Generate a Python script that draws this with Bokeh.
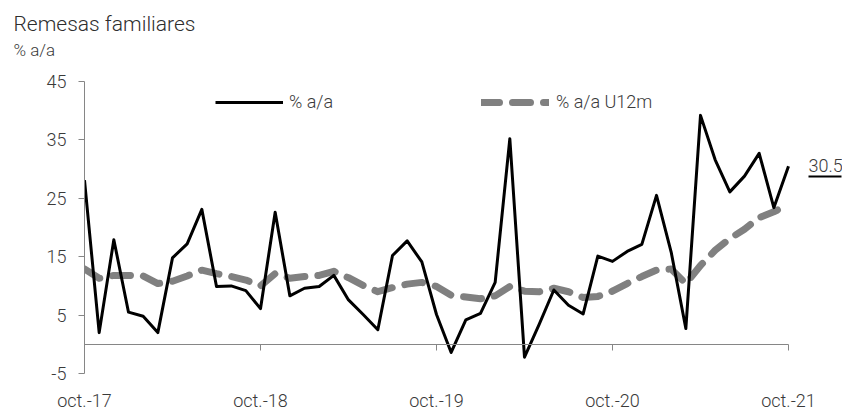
from bokeh.plotting import figure
from bokeh.models import (Range1d, LinearAxis, FixedTicker, Legend, LegendItem,
                          Title, ColumnDataSource)
from bokeh.core.properties import value
from bokeh.embed import file_html
from bokeh.resources import INLINE

# ---------------- data ----------------
tick_pos = [0, 12, 24, 36, 48]
tick_labels = ["oct.-17", "oct.-18", "oct.-19", "oct.-20", "oct.-21"]
y_ticks = [-5, 5, 15, 25, 35, 45]
y_tick_labels = ["-5", "5", "15", "25", "35", "45"]

yoy = [28.1, 2.0, 17.9, 5.5, 4.8, 2.0, 14.8, 17.2, 23.1, 9.9, 10.0, 9.2,
       6.1, 22.6, 8.3, 9.6, 9.9, 11.8, 7.6, 5.1, 2.5, 15.2, 17.7, 14.1,
       5.1, -1.4, 4.2, 5.3, 10.6, 35.2, -2.2, 3.4, 9.3, 6.7, 5.2, 15.1,
       14.2, 15.9, 17.1, 25.5, 15.8, 2.7, 39.2, 31.6, 26.1, 28.8, 32.7, 23.4,
       30.5]
yoy_12m = [12.9, 11.3, 11.8, 11.8, 11.7, 10.4, 10.8, 11.7, 12.7, 12.1, 11.6, 11.0,
           10.0, 12.1, 11.3, 11.6, 11.8, 12.5, 11.4, 10.1, 9.0, 9.7, 10.3, 10.6,
           9.9, 8.4, 8.1, 7.8, 8.3, 9.9, 9.1, 9.0, 9.6, 9.0, 8.0, 8.2,
           9.1, 10.4, 11.6, 12.7, 12.9, 10.4, 13.5, 16.1, 18.1, 19.7, 21.7, 22.7,
           23.9]
months = list(range(len(yoy)))

FONT = "Roboto Light"
TXT = "#3a3a3a"
AX = "#868686"

# frame geometry
W, H = 842, 413
LEFT, TOP, BOTTOM = 84, 81, 37
frame_w = W - LEFT
frame_h = H - TOP - BOTTOM
px_per_month = 704 / 48.0
xmax = frame_w / px_per_month
px_per_unit = frame_h / 50.0

p = figure(width=W, height=H, output_backend="svg", toolbar_location=None,
           x_range=Range1d(0, xmax), y_range=Range1d(-5, 45),
           x_axis_type=None, y_axis_type=None,
           min_border_left=LEFT, min_border_right=0, min_border_top=TOP,
           min_border_bottom=BOTTOM)
p.outline_line_color = None
p.xgrid.visible = False
p.ygrid.visible = False
p.background_fill_color = "white"
p.border_fill_color = "white"

# y axis
yax = LinearAxis(ticker=FixedTicker(ticks=y_ticks),
                 major_label_overrides={t: l for t, l in zip(y_ticks, y_tick_labels)})
yax.axis_line_color = AX
yax.major_tick_line_color = AX
yax.major_tick_in = 0
yax.major_tick_out = 6
yax.minor_tick_line_color = None
yax.major_label_standoff = 12
yax.major_label_text_font = FONT
yax.major_label_text_font_size = "18px"
yax.major_label_text_color = TXT
p.add_layout(yax, "left")

# x axis line at zero with ticks (no labels)
xax0 = LinearAxis(ticker=FixedTicker(ticks=tick_pos), fixed_location=0, bounds=(0, 48),
                  major_label_overrides={t: "" for t in tick_pos})
xax0.axis_line_color = AX
xax0.major_tick_line_color = AX
xax0.major_tick_in = 0
xax0.major_tick_out = 6
xax0.minor_tick_line_color = None
xax0.major_label_standoff = 0
xax0.major_label_text_font_size = "1px"
p.add_layout(xax0, "below")

# x labels axis at bottom
xax = LinearAxis(ticker=FixedTicker(ticks=tick_pos),
                 major_label_overrides={t: l for t, l in zip(tick_pos, tick_labels)})
xax.axis_line_color = None
xax.major_tick_line_color = None
xax.minor_tick_line_color = None
xax.major_tick_in = 0
xax.major_tick_out = 0
xax.major_label_standoff = 16
xax.major_label_text_font = FONT
xax.major_label_text_font_size = "18px"
xax.major_label_text_color = TXT
p.add_layout(xax, "below")

src = ColumnDataSource(dict(m=months, yoy=yoy, yoy12=yoy_12m))
r12 = p.line("m", "yoy12", source=src, line_color="#808080", line_width=7,
             line_dash="18 13", line_cap="round", line_join="round")
r1 = p.line("m", "yoy", source=src, line_color="#000000", line_width=3,
            line_join="round")

# last value label with underline
last_i = months[-1]
last_v = yoy[-1]
p.text(x=[last_i], y=[last_v], text=[f"{last_v:.1f}"], x_offset=20, y_offset=-1,
       text_baseline="middle", text_align="left", text_font=value(FONT),
       text_font_size="18px", text_color=TXT)
ul_y = last_v - 10.5 / px_per_unit
p.segment(x0=[last_i + 20 / px_per_month], y0=[ul_y],
          x1=[last_i + 53 / px_per_month], y1=[ul_y], line_color="#000000", line_width=2)

# legends
for rend, label, xloc, stand in [(r1, "% a/a", 131, 6), (r12, "% a/a U12m", 397, 7)]:
    lg = Legend(items=[LegendItem(label=label, renderers=[rend])],
                location=(xloc, frame_h - 24 - 10), orientation="horizontal",
                glyph_width=68, glyph_height=20, label_height=20,
                label_standoff=stand, padding=0, margin=0, spacing=0,
                border_line_color=None, background_fill_alpha=0,
                label_text_font=FONT, label_text_font_size="18px",
                label_text_color=TXT)
    p.add_layout(lg)

# titles
sub = Title(text="% a/a", align="left", offset=-71, text_font=FONT,
            text_font_size="17px", text_font_style="normal", text_color=TXT,
            standoff=43)
main = Title(text="Remesas familiares", align="left", offset=-71, text_font=FONT,
             text_font_size="21px", text_font_style="normal", text_color="#2e2e2e",
             standoff=-39)
p.add_layout(sub, "above")
p.add_layout(main, "above")

open("out.html", "w").write(file_html(p, INLINE))
